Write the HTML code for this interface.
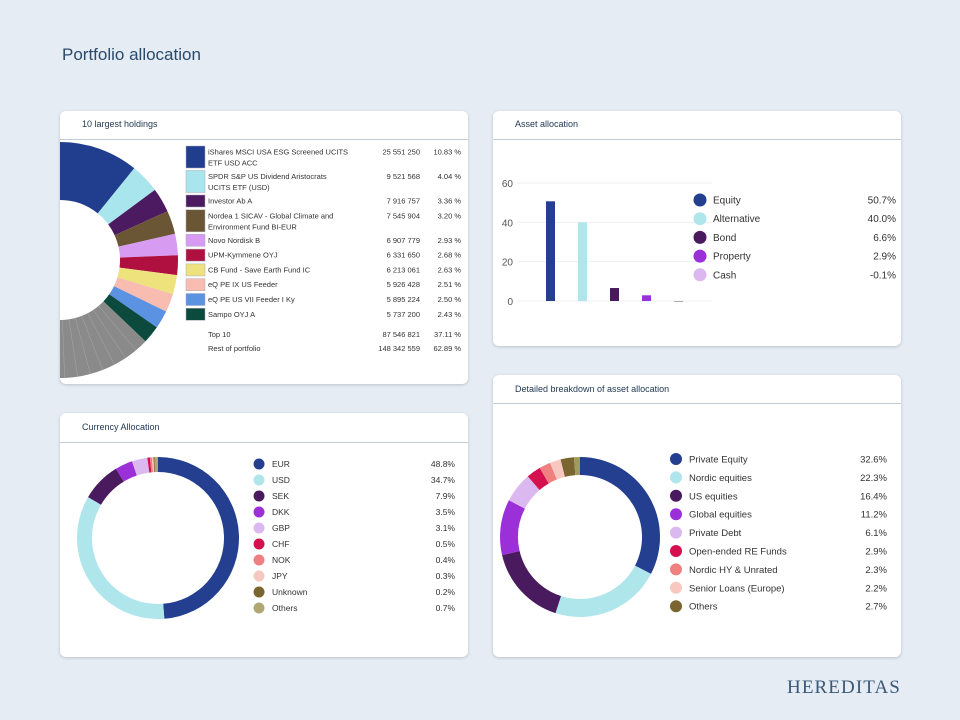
<!DOCTYPE html>
<html><head><meta charset="utf-8">
<style>
body{margin:0;width:960px;height:720px;background:#e5ecf3;font-family:"Liberation Sans",sans-serif;position:relative;overflow:hidden}
.card{position:absolute;background:#fff;border-radius:6px;box-shadow:0 1px 3px rgba(0,0,0,0.18);overflow:hidden}
.hdr{position:absolute;left:0;right:0;top:0;border-bottom:1px solid #c4cbd2;font-size:9px;color:#1f3550;padding-left:22px;box-sizing:border-box}
svg{position:absolute;left:0;top:0}
#title{position:absolute;left:62px;top:45px;font-size:17px;color:#2a4a6c}
#logo{position:absolute;left:787px;top:677px;font-family:"Liberation Serif",serif;font-size:19px;letter-spacing:1.1px;color:#3a5878}
</style></head><body>
<div id="title">Portfolio allocation</div>

<div class="card" style="left:60px;top:111px;width:408px;height:273px">
 <div class="hdr" style="height:29px;line-height:27px">10 largest holdings</div>
 <svg id="hold" width="408" height="273"></svg>
</div>
<div class="card" style="left:493px;top:111px;width:408px;height:235px">
 <div class="hdr" style="height:29px;line-height:27px">Asset allocation</div>
 <svg id="asset" width="408" height="235"></svg>
</div>
<div class="card" style="left:60px;top:413px;width:408px;height:244px">
 <div class="hdr" style="height:30px;line-height:29px">Currency Allocation</div>
 <svg id="cur" width="408" height="244"></svg>
</div>
<div class="card" style="left:493px;top:375px;width:408px;height:282px">
 <div class="hdr" style="height:29px;line-height:28px">Detailed breakdown of asset allocation</div>
 <svg id="det" width="408" height="282"></svg>
</div>
<div id="logo">HEREDITAS</div>

<script>
const NS="http://www.w3.org/2000/svg";
// Holdings data
const holdNames=[["iShares MSCI USA ESG Screened UCITS","ETF USD ACC"],["SPDR S&P US Dividend Aristocrats","UCITS ETF (USD)"],["Investor Ab A"],["Nordea 1 SICAV - Global Climate and","Environment Fund BI-EUR"],["Novo Nordisk B"],["UPM-Kymmene OYJ"],["CB Fund - Save Earth Fund IC"],["eQ PE IX US Feeder"],["eQ PE US VII Feeder I Ky"],["Sampo OYJ A"]];
const holdValues=["25 551 250","9 521 568","7 916 757","7 545 904","6 907 779","6 331 650","6 213 061","5 926 428","5 895 224","5 737 200"];
const holdPct=[10.83,4.04,3.36,3.20,2.93,2.68,2.63,2.51,2.50,2.43];
const restPct=62.89;
const holdColors=["#213d8e","#a9e5ec","#4b1a60","#6a5634","#d79cf2","#b0103f","#ede27c","#f8bdb0","#5b92e2","#0b4a3c"];
// Asset allocation
const assetCats=["Equity","Alternative","Bond","Property","Cash"];
const assetVals=[50.7,40.0,6.6,2.9,-0.1];
const assetTicks=[0,20,40,60];
const assetColors=["#243f8f","#aee6ec","#4a1a5e","#9b30d9","#dcb8f0"];
// Currency
const curCats=["EUR","USD","SEK","DKK","GBP","CHF","NOK","JPY","Unknown","Others"];
const curVals=[48.8,34.7,7.9,3.5,3.1,0.5,0.4,0.3,0.2,0.7];
const curColors=["#243f8f","#aee6ec","#4a1a5e","#9b30d9","#dcb8f0","#d4104e","#f08080","#f8c8c0","#7a6430","#b0a870"];
// Detailed
const detCats=["Private Equity","Nordic equities","US equities","Global equities","Private Debt","Open-ended RE Funds","Nordic HY & Unrated","Senior Loans (Europe)","Others"];
const detVals=[32.6,22.3,16.4,11.2,6.1,2.9,2.3,2.2,2.7];
const detColors=["#243f8f","#aee6ec","#4a1a5e","#9b30d9","#dcb8f0","#d4104e","#f08080","#f8c8c0","#7a6430"];

function el(p,t,a){const e=document.createElementNS(NS,t);for(const k in a)e.setAttribute(k,a[k]);p.appendChild(e);return e;}
function txt(p,x,y,s,a){const e=el(p,"text",Object.assign({x:x,y:y,"font-size":9,fill:"#333","font-family":"Liberation Sans, sans-serif"},a||{}));e.textContent=s;return e;}
function arcPath(cx,cy,r0,r1,a0,a1){
 const p=(r,a)=>[cx+r*Math.sin(a),cy-r*Math.cos(a)];
 const large=(a1-a0)>Math.PI?1:0;
 const [x1,y1]=p(r1,a0),[x2,y2]=p(r1,a1),[x3,y3]=p(r0,a1),[x4,y4]=p(r0,a0);
 return `M${x1},${y1}A${r1},${r1} 0 ${large} 1 ${x2},${y2}L${x3},${y3}A${r0},${r0} 0 ${large} 0 ${x4},${y4}Z`;
}
function donut(svg,vals,colors,cx,cy,r0,r1,name){
 const tot=vals.reduce((a,b)=>a+b,0);let a=0;
 vals.forEach((v,i)=>{const a1=a+v/tot*2*Math.PI;
  const e=el(svg,"path",{d:arcPath(cx,cy,r0,r1,a,a1),fill:colors[i]});
  
  
  a=a1;});
}
// Holdings
(function(){
 const s=document.getElementById("hold");
 const cx=0,cy=149,r0=60,r1=118;
 let a=0;
 holdPct.forEach((v,i)=>{const a1=a+v/100*2*Math.PI;
  const e=el(s,"path",{d:arcPath(cx,cy,r0,r1,a,a1),fill:holdColors[i]});
  
  
  a=a1;});
 const g=el(s,"path",{d:arcPath(cx,cy,r0,r1,a,a+restPct/100*2*Math.PI),fill:"#8a8a8a"});
 
 
 for(let k=1;k<14;k++){const an=a+k*0.11;el(s,"line",{x1:cx+r0*Math.sin(an),y1:cy-r0*Math.cos(an),x2:cx+r1*Math.sin(an),y2:cy-r1*Math.cos(an),stroke:"#a8a8a8","stroke-width":0.5});}
 let y=35;
 holdNames.forEach((n,i)=>{
  const h=n.length>1?22:12;
  const r=el(s,"rect",{x:126,y:y,width:19,height:h,fill:holdColors[i],stroke:"#aab","stroke-width":0.5});
  
  
  n.forEach((l,j)=>txt(s,148,y+8.5+j*11,l,{"font-size":7.5}));
  txt(s,360,y+8.5,holdValues[i],{"font-size":7.5,"text-anchor":"end"});
  txt(s,401,y+8.5,holdPct[i].toFixed(2)+" %",{"font-size":7.5,"text-anchor":"end"});
  y+=h+(n.length>1?2.5:2.8);
 });
 const top=holdPct.reduce((a,b)=>a+b,0);
 txt(s,148,226,"Top 10",{"font-size":7.5});
 txt(s,360,226,"87 546 821",{"font-size":7.5,"text-anchor":"end"});
 txt(s,401,226,top.toFixed(2)+" %",{"font-size":7.5,"text-anchor":"end"});
 txt(s,148,240,"Rest of portfolio",{"font-size":7.5});
 txt(s,360,240,"148 342 559",{"font-size":7.5,"text-anchor":"end"});
 txt(s,401,240,restPct.toFixed(2)+" %",{"font-size":7.5,"text-anchor":"end"});
})();
// Asset bars
(function(){
 const s=document.getElementById("asset");
 const y0=190,yScale=v=>y0-v/60*118;
 assetTicks.forEach(t=>{el(s,"line",{x1:24,x2:219,y1:yScale(t),y2:yScale(t),stroke:"#eef0f2","stroke-width":1});
  txt(s,20,yScale(t)+4,String(t),{"font-size":10,fill:"#555","text-anchor":"end"});});
 assetVals.forEach((v,i)=>{const x=53+i*32;
  const b=el(s,"rect",{x:x,y:Math.min(yScale(v),y0),width:9,height:Math.max(Math.abs(yScale(v)-y0),0.8),fill:i==4?"#999":assetColors[i]});
  
  
  const y=89+i*18.7;
  const c=el(s,"circle",{cx:207,cy:y,r:6.5,fill:assetColors[i]});
  
  
  txt(s,220,y+3.5,assetCats[i],{"font-size":10});
  txt(s,403,y+3.5,v.toFixed(1)+"%",{"font-size":10,"text-anchor":"end"});
 });
})();
// Currency
(function(){
 const s=document.getElementById("cur");
 donut(s,curVals,curColors,98,125,66,81,"currency");
 curCats.forEach((c,i)=>{const y=51+i*16;
  const d=el(s,"circle",{cx:199,cy:y,r:5.5,fill:curColors[i]});
  
  
  txt(s,212,y+3,c,{"font-size":8.5});
  txt(s,395,y+3,curVals[i].toFixed(1)+"%",{"font-size":8.5,"text-anchor":"end"});
 });
})();
// Detailed
(function(){
 const s=document.getElementById("det");
 donut(s,detVals.concat([1.2]),detColors.concat(["#a09a5c"]),87,162,62,80,"detail");
 detCats.forEach((c,i)=>{const y=84+i*18.4;
  const d=el(s,"circle",{cx:183,cy:y,r:6,fill:detColors[i]});
  
  
  txt(s,196,y+3.5,c,{"font-size":9.5});
  txt(s,394,y+3.5,detVals[i].toFixed(1)+"%",{"font-size":9.5,"text-anchor":"end"});
 });
})();
</script>
</body></html>
